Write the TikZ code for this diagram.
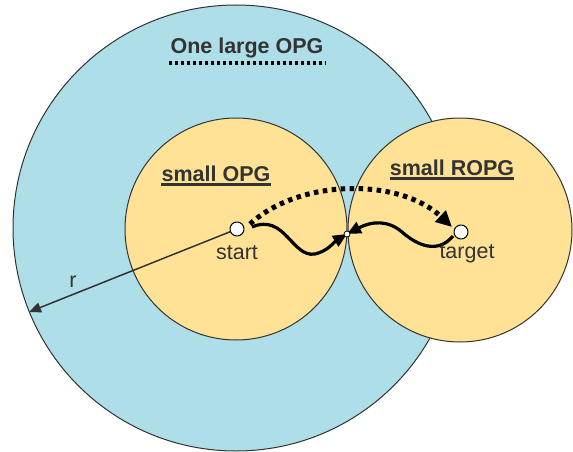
\documentclass[tikz,border=0pt]{standalone}
\usepackage{fontspec}
\setmainfont{Liberation Sans}
\usepackage{xcolor}
\usetikzlibrary{arrows.meta}
\definecolor{opgblue}{HTML}{AEDEE8}
\definecolor{opgyellow}{HTML}{FFE296}
\definecolor{inkgray}{HTML}{333333}

\begin{document}
\begin{tikzpicture}[x=1pt,y=-1pt,line join=round,
  label text/.style={text=inkgray,inner sep=0pt,font=\fontsize{21.5}{24}\selectfont},
  title text/.style={label text,font=\fontsize{21.5}{24}\selectfont\bfseries},
  waypoint/.style={circle,draw=black,fill=white,line width=1pt,inner sep=0pt},
  wave/.style={line width=3.2pt,-{Triangle[length=14pt,width=12pt]}},
  hop/.style={line width=5pt,dash pattern=on 4.5pt off 4.5pt,-{Triangle[length=16pt,width=15pt]}}]
  \useasboundingbox (0,0) rectangle (573,452);
  \coordinate (S) at (237,229);
  \coordinate (T) at (461,232);
  \coordinate (J) at (347,234);
  \coordinate (R) at (29,312);
  % regions
  \draw[fill=opgblue,draw=inkgray,line width=1pt] (236,228) circle (223);
  \draw[fill=opgyellow,draw=inkgray,line width=1pt] (236,229) circle (111);
  \draw[fill=opgyellow,draw=inkgray,line width=1pt] (460,230) circle (112);
  % radius
  \draw[inkgray,line width=1.5pt,-{Triangle[length=12pt,width=10pt]}] (S) -- (R);
  \node[label text] (rlabel) at (73,282) {r};
  % titles
  \node[title text,anchor=base] (large) at (247,54) {One large OPG};
  \draw[line width=3.2pt,dash pattern=on 3pt off 3pt] (169,63) -- (326,63);
  \node[title text,anchor=base] (sopg) at (216,181) {small OPG};
  \draw[inkgray,line width=2.4pt] ([yshift=-3.5pt]sopg.base west) -- ([yshift=-3.5pt]sopg.base east);
  \node[title text,anchor=base] (sropg) at (452,175) {small ROPG};
  \draw[inkgray,line width=2.4pt] ([yshift=-3.5pt]sropg.base west) -- ([yshift=-3.5pt]sropg.base east);
  % paths
  \draw[hop] (250,224) .. controls (300,178) and (400,178) .. (452,227);
  \draw[wave] (252,227) .. controls (285,213) and (292,258) .. (315,254)
    .. controls (328,251) and (334,242) .. (J);
  \draw[wave] (453,236) .. controls (438,254) and (418,246) .. (402,232)
    .. controls (388,220) and (372,221) .. (J);
  % points
  \node[waypoint,minimum size=14pt] (start) at (S) {};
  \node[waypoint,minimum size=14pt] (target) at (T) {};
  \node[waypoint,minimum size=6pt,line width=0.8pt] (join) at (J) {};
  \node[label text,anchor=base] (startlabel) at (237,259) {start};
  \node[label text,anchor=base] (targetlabel) at (467,258) {target};
\end{tikzpicture}
\end{document}
